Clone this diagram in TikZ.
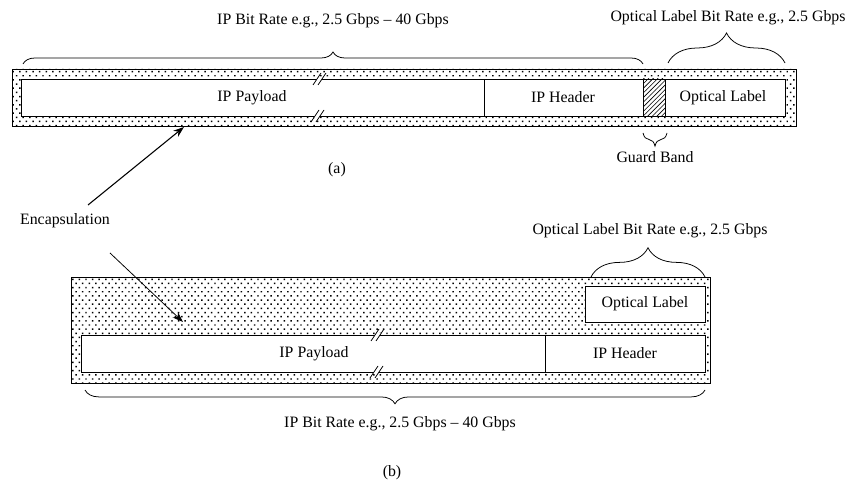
\documentclass[tikz,border=0pt]{standalone}
\usepackage{fontspec}
\setmainfont{Liberation Serif}
\usetikzlibrary{patterns,decorations.pathreplacing,arrows.meta}

\pgfdeclarepatternformonly{sparsedots}{\pgfqpoint{-0.5pt}{-0.5pt}}{\pgfqpoint{4.3pt}{5.4pt}}{\pgfqpoint{4.3pt}{5.4pt}}{%
  \pgfpathrectangle{\pgfqpoint{-0.48pt}{-0.48pt}}{\pgfqpoint{0.96pt}{0.96pt}}%
  \pgfpathrectangle{\pgfqpoint{1.67pt}{2.22pt}}{\pgfqpoint{0.96pt}{0.96pt}}\pgfusepath{fill}}

\tikzset{
  band/.style={draw, line width=0.6pt, pattern=sparsedots},
  field/.style={draw, line width=0.6pt, fill=white},
  txt/.style={font=\fontsize{10.3}{12}\selectfont, inner sep=1pt},
  curly/.style={decorate, decoration={brace, amplitude=#1}, line width=0.5pt},
}

\begin{document}
\begin{tikzpicture}[x=0.65pt, y=-0.65pt]
  \useasboundingbox (0,0) rectangle (854,487);

  % (a) Packet with label in series
  \path[band] (12,69) rectangle (796,126);
  \path[field] (21,79) rectangle (785,116);
  \draw[line width=0.6pt] (484,79) -- (484,116);
  \path[draw, line width=0.6pt, pattern=north east lines] (643,79) rectangle (665,116);
  \node[txt] (payA) at (252,97.5) {IP Payload};
  \node[txt] (hdrA) at (563,97.5) {IP Header};
  \node[txt] (lblA) at (723,97.5) {Optical Label};

  % (a) Braces
  \draw[curly=7.8pt] (23,64) -- (643,64);
  \node[txt] (ipRateA) at (333,21) {IP Bit Rate e.g., 2.5 Gbps -- 40 Gbps};
  \draw[curly=19.5pt] (668,63) -- (785,63);
  \node[txt] (olRateA) at (728,18) {Optical Label Bit Rate e.g., 2.5 Gbps};
  \draw[curly=8.5pt] (667,133) -- (643,133);
  \node[txt] (guard) at (655,157) {Guard Band};
  \node[txt] (capA) at (337,170) {(a)};

  % (b) Packet with label on top
  \path[band] (71,277) rectangle (710,383);
  \path[field] (81,335) rectangle (705,372);
  \draw[line width=0.6pt] (545,335) -- (545,372);
  \path[field] (585,286) rectangle (705,322);
  \node[txt] (payB) at (314,353.5) {IP Payload};
  \node[txt] (hdrB) at (625,353.5) {IP Header};
  \node[txt] (lblB) at (645,304) {Optical Label};

  % (b) Braces
  \draw[curly=19pt] (591,277) -- (705,277);
  \node[txt] (olRateB) at (650,231) {Optical Label Bit Rate e.g., 2.5 Gbps};
  \draw[curly=9pt] (705,390) -- (85,390);
  \node[txt] (ipRateB) at (400,424) {IP Bit Rate e.g., 2.5 Gbps -- 40 Gbps};
  \node[txt] (capB) at (392,473) {(b)};

  % Break marks
  \foreach \x/\y in {320/79, 318/116, 378/335, 377/372} {
    \fill[white] (\x-4.3,\y+2) -- (\x+0.7,\y+2) -- (\x+3.3,\y-2) -- (\x-1.7,\y-2) -- cycle;
    \draw[line width=0.5pt] (\x-7,\y+6) -- (\x+1,\y-6);
    \draw[line width=0.5pt] (\x-2,\y+6) -- (\x+6,\y-6);
  }

  % Encapsulation arrows
  \node[txt] (enc) at (65,221) {Encapsulation};
  \coordinate (encStartA) at (88,205);
  \coordinate (encEndA) at (184,127);
  \coordinate (encStartB) at (110,253);
  \coordinate (encEndB) at (183,322);
  \draw[-{Stealth[length=7pt,width=5pt]}, line width=0.7pt] (encStartA) -- (encEndA);
  \draw[-{Stealth[length=7pt,width=5pt]}, line width=0.5pt] (encStartB) -- (encEndB);

\end{tikzpicture}
\end{document}
